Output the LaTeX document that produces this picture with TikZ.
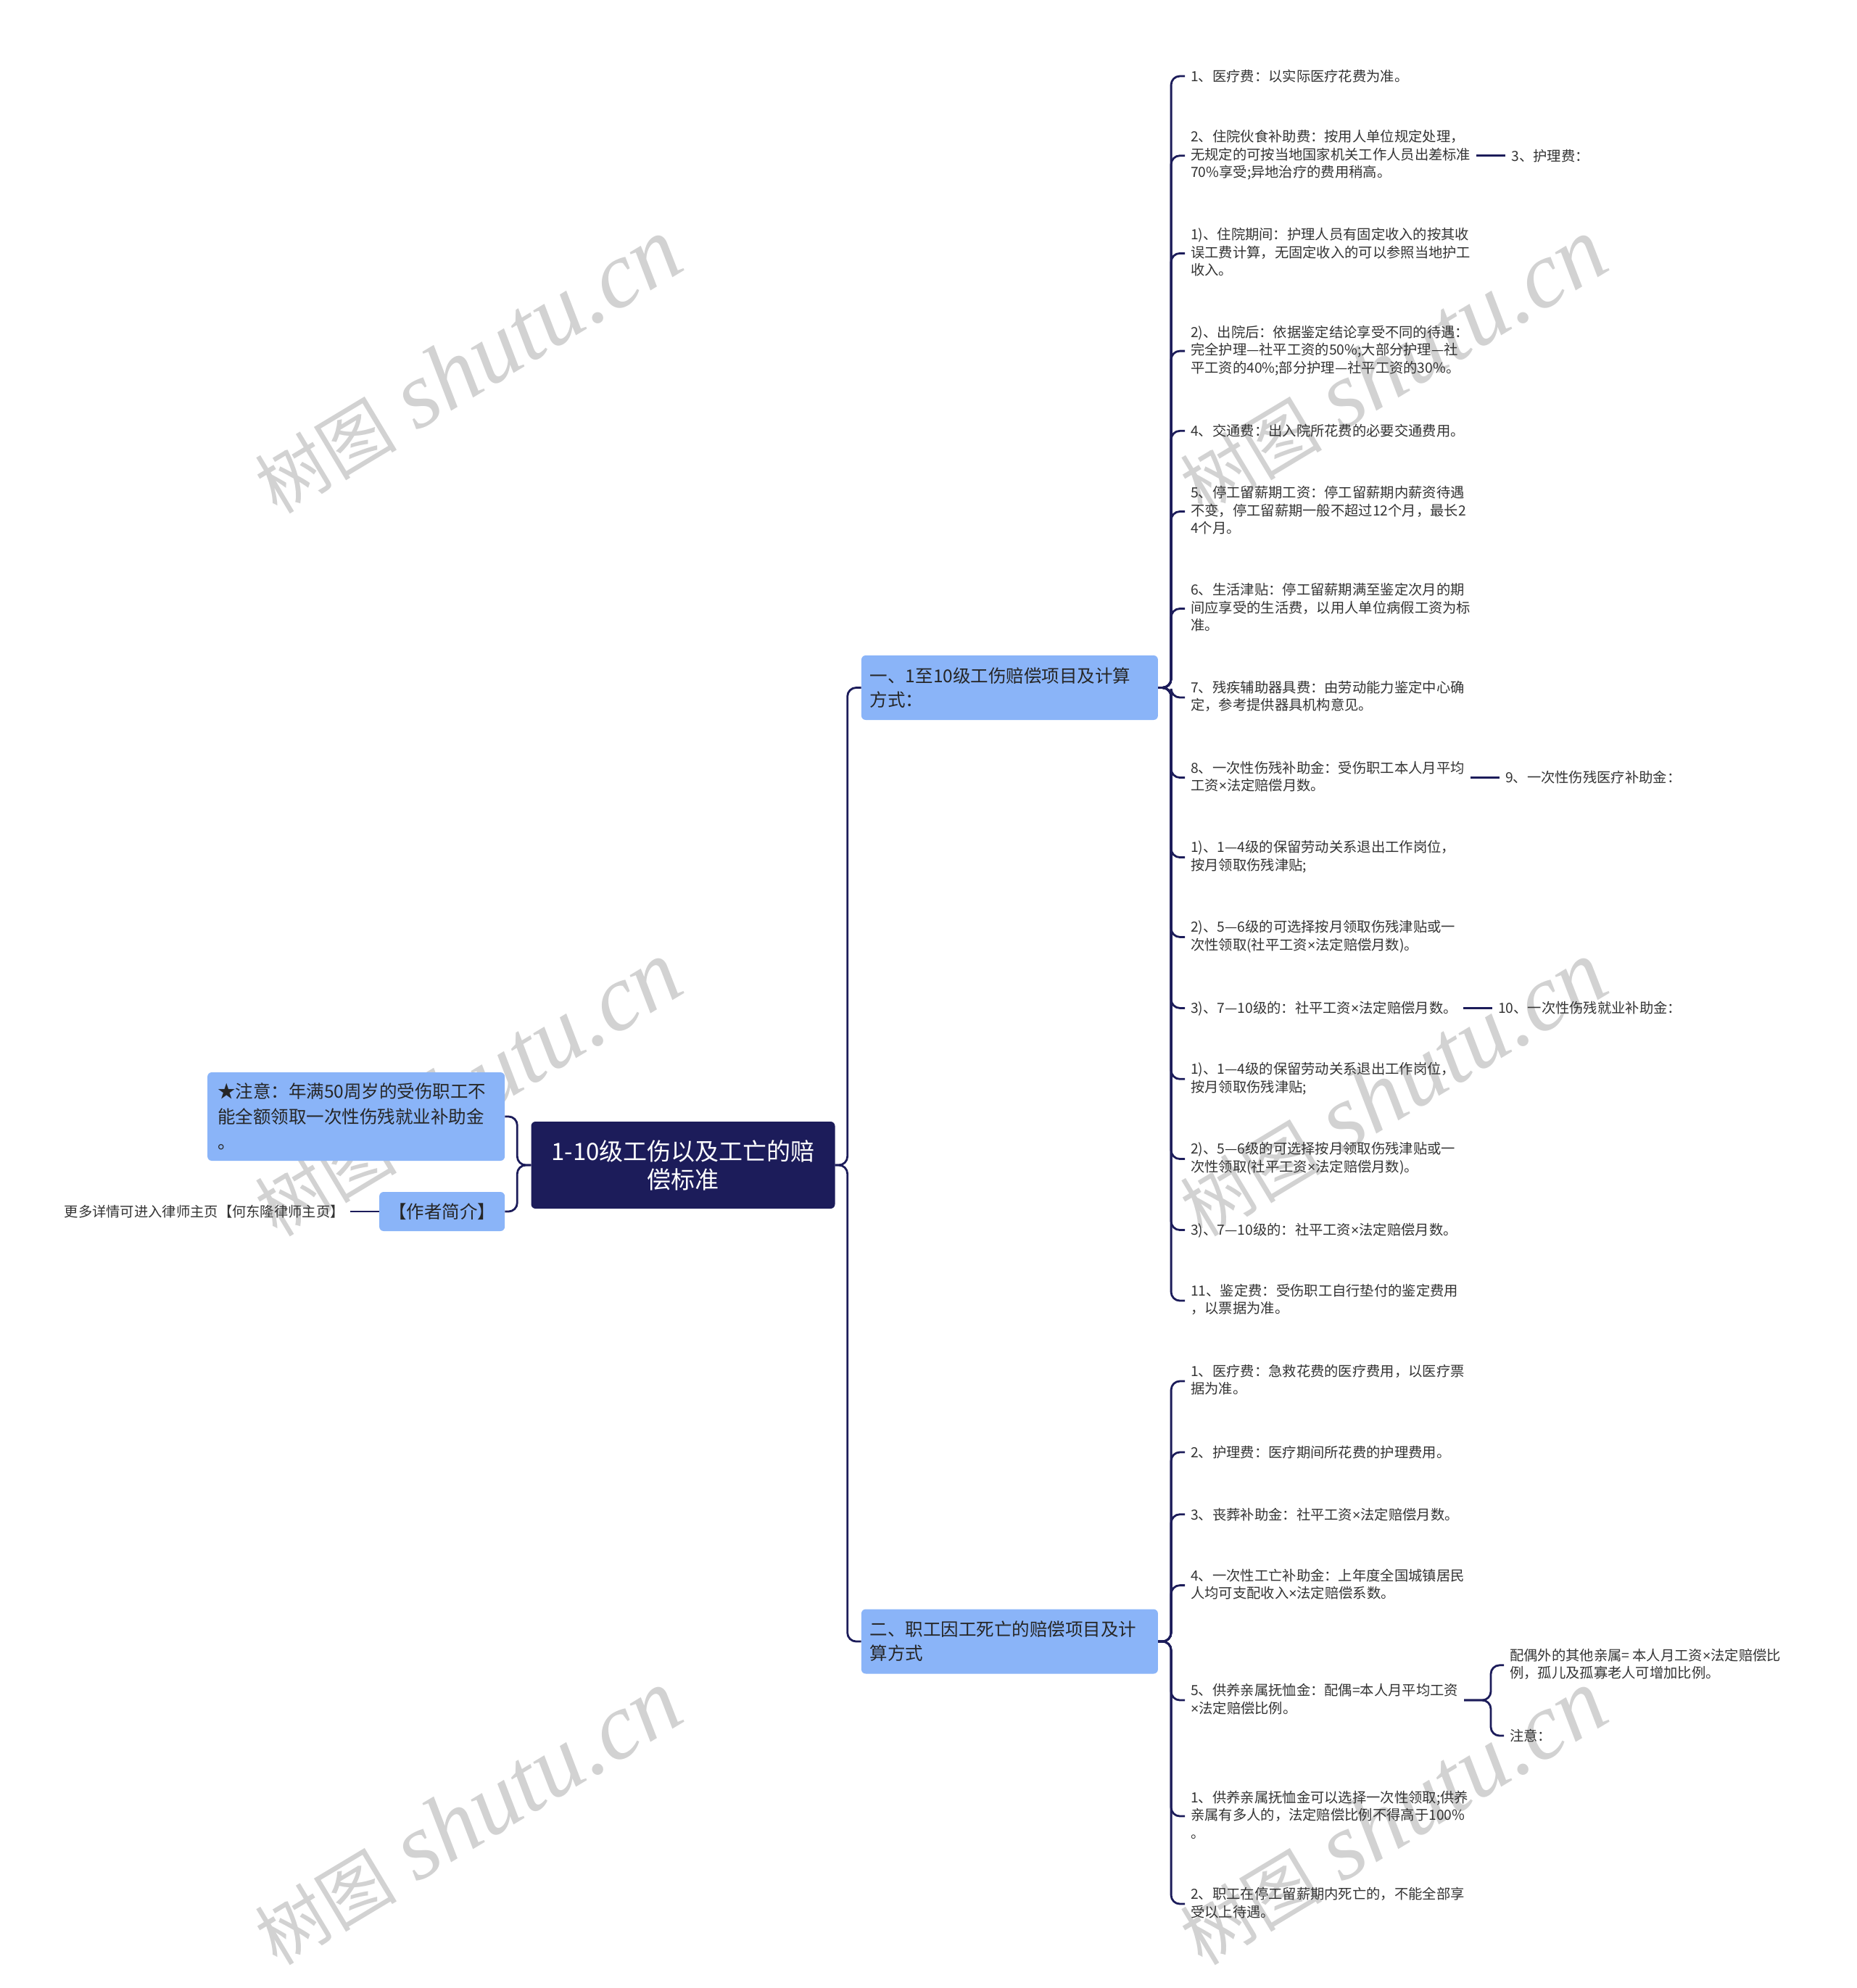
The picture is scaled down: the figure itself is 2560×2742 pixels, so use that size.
\documentclass[tikz,border=0pt]{standalone}
\usepackage{fontspec}
\setmainfont{Noto Sans CJK SC}
\newfontfamily\wmfont{Liberation Serif}
\newfontfamily\latinfont{Liberation Sans}
\usetikzlibrary{positioning,calc}
\definecolor{maplink}{HTML}{1C1C5A}
\definecolor{rootfill}{HTML}{1C1C5A}
\definecolor{branchfill}{HTML}{8AB4F8}
\definecolor{leaftext}{HTML}{333333}
\definecolor{wmgray}{HTML}{D2D2D2}
\newcommand{\shututext}{{\fontsize{98}{98}\selectfont 树图}\hspace{28pt}{\wmfont\itshape\fontsize{130}{130}\selectfont shutu.cn}}
\newcommand{\leafstrut}{\rule[-4.9pt]{0pt}{24.5pt}}
\newcommand{\mul}{{\latinfont ×}}

\begin{document}
\begin{tikzpicture}[
    x=1pt, y=1pt,
    node distance=61.2pt and 40pt,
    root/.style={rectangle, fill=rootfill, rounded corners=6pt, text=white, minimum width=419pt, minimum height=120pt, align=center, font=\fontsize{33}{39}\selectfont},
    branch/.style={rectangle, fill=branchfill, rounded corners=6pt, text=black!85, text width=385pt, inner xsep=12pt, minimum height=89pt, align=left, font=\fontsize{24.5}{33}\selectfont},
    notebox/.style={rectangle, fill=branchfill, rounded corners=6pt, text=black!85, text width=382pt, inner xsep=14pt, minimum height=122pt, align=left, font=\fontsize{24.5}{35}\selectfont},
    authorbox/.style={rectangle, fill=branchfill, rounded corners=6pt, text=black!85, minimum width=173pt, minimum height=54pt, inner xsep=0pt, font=\fontsize{24.5}{30}\selectfont},
    leaf/.style={rectangle, anchor=west, inner xsep=8pt, inner ysep=0pt, align=left, text=leaftext, font=\fontsize{19.3}{24.5}\selectfont, execute at begin node=\leafstrut, execute at end node=\leafstrut},
    link/.style={draw=maplink, line width=2.8pt, rounded corners=12pt},
    wm/.style={text=wmgray, rotate=31}
]
\useasboundingbox (0,0) rectangle (2560,-2742);

% watermarks
\node[wm] (wm1) at (645,-505) {\shututext};
\node[wm] (wm2) at (1921,-505) {\shututext};
\node[wm] (wm3) at (645,-1502) {\shututext};
\node[wm] (wm4) at (1921,-1502) {\shututext};
\node[wm] (wm5) at (645,-2507) {\shututext};
\node[wm] (wm6) at (1921,-2507) {\shututext};

% Centre and main branches
\node[root] (root) at (942,-1607) {1-10级工伤以及工亡的赔\\偿标准};
\node[branch, right=36pt of root, yshift=658.5pt] (injury) {一、1至10级工伤赔偿项目及计算\\方式：};
\node[branch, right=36pt of root, yshift=-657pt] (death) {二、职工因工死亡的赔偿项目及计\\算方式};

% Left side
\node[notebox, left=36pt of root, yshift=67pt] (note) {★注意：年满50周岁的受伤职工不\\能全额领取一次性伤残就业补助金\\。};
\node[authorbox, left=36pt of root, yshift=-64pt] (author) {【作者简介】};
\node[leaf, anchor=east, left=40pt of author] (more) {更多详情可进入律师主页【何东隆律师主页】};

% Branch 1: injury items
\node[leaf] (injmed) at (1634,-105) {1、医疗费：以实际医疗花费为准。};
\node[leaf] (injfood) at (1634,-214.7) {2、住院伙食补助费：按用人单位规定处理，\\无规定的可按当地国家机关工作人员出差标准\\70\%享受;异地治疗的费用稍高。};
\node[leaf, right=of injfood] (injnurse) {3、护理费：};
\node[leaf] (injstay) at (1634,-349.4) {1)、住院期间：护理人员有固定收入的按其收\\误工费计算，无固定收入的可以参照当地护工\\收入。};
\node[leaf] (injout) at (1634,-484.1) {2)、出院后：依据鉴定结论享受不同的待遇：\\完全护理—社平工资的50\%;大部分护理—社\\平工资的40\%;部分护理—社平工资的30\%。};
\node[leaf] (injtraffic) at (1634,-594.3) {4、交通费：出入院所花费的必要交通费用。};
\node[leaf] (injwage) at (1634,-705.5) {5、停工留薪期工资：停工留薪期内薪资待遇\\不变，停工留薪期一般不超过12个月，最长2\\4个月。};
\node[leaf] (injliving) at (1634,-839.5) {6、生活津贴：停工留薪期满至鉴定次月的期\\间应享受的生活费，以用人单位病假工资为标\\准。};
\node[leaf] (injaid) at (1634,-962) {7、残疾辅助器具费：由劳动能力鉴定中心确\\定，参考提供器具机构意见。};
\node[leaf] (injlump) at (1634,-1072.5) {8、一次性伤残补助金：受伤职工本人月平均\\工资\mul 法定赔偿月数。};
\node[leaf, right=of injlump] (injlumpmed) {9、一次性伤残医疗补助金：};
\node[leaf] (injgradeA) at (1634,-1182.5) {1)、1—4级的保留劳动关系退出工作岗位，\\按月领取伤残津贴;};
\node[leaf] (injgradeB) at (1634,-1292.4) {2)、5—6级的可选择按月领取伤残津贴或一\\次性领取(社平工资\mul 法定赔偿月数)。};
\node[leaf] (injgradeC) at (1634,-1390.4) {3)、7—10级的：社平工资\mul 法定赔偿月数。};
\node[leaf, right=of injgradeC] (injjob) {10、一次性伤残就业补助金：};
\node[leaf] (injgradeD) at (1634,-1488.3) {1)、1—4级的保留劳动关系退出工作岗位，\\按月领取伤残津贴;};
\node[leaf] (injgradeE) at (1634,-1598.5) {2)、5—6级的可选择按月领取伤残津贴或一\\次性领取(社平工资\mul 法定赔偿月数)。};
\node[leaf] (injgradeF) at (1634,-1696.5) {3)、7—10级的：社平工资\mul 法定赔偿月数。};
\node[leaf] (injassess) at (1634,-1794) {11、鉴定费：受伤职工自行垫付的鉴定费用\\，以票据为准。};

% Branch 2: death items
\node[leaf] (dthmed) at (1634,-1905) {1、医疗费：急救花费的医疗费用，以医疗票\\据为准。};
\node[leaf] (dthnurse) at (1634,-2003) {2、护理费：医疗期间所花费的护理费用。};
\node[leaf] (dthfuneral) at (1634,-2088.7) {3、丧葬补助金：社平工资\mul 法定赔偿月数。};
\node[leaf] (dthlump) at (1634,-2186.6) {4、一次性工亡补助金：上年度全国城镇居民\\人均可支配收入\mul 法定赔偿系数。};
\node[leaf] (dthpension) at (1634,-2345) {5、供养亲属抚恤金：配偶=本人月平均工资\\\mul 法定赔偿比例。};
\node[leaf] (dthspouse) at (2074,-2296.8) {配偶外的其他亲属= 本人月工资\mul 法定赔偿比\\例，孤儿及孤寡老人可增加比例。};
\node[leaf] (dthnote) at (2074,-2394) {注意：};
\node[leaf] (dthchoose) at (1634,-2505) {1、供养亲属抚恤金可以选择一次性领取;供养\\亲属有多人的，法定赔偿比例不得高于100\%\\。};
\node[leaf] (dthstop) at (1634,-2626) {2、职工在停工留薪期内死亡的，不能全部享\\受以上待遇。};

% Connectors: centre
\draw[link] (root.east) -- ++(17,0) |- (injury.west);
\draw[link] (root.east) -- ++(17,0) |- (death.west);
\draw[link] (root.west) -- ++(-19,0) |- (note.east);
\draw[link] (root.west) -- ++(-19,0) |- (author.east);
\draw[link] (author.west) -- (more.east);

% Connectors: branch 1
\draw[link] (injury.east) -- ++(18,0) |- (injmed.west);
\draw[link] (injury.east) -- ++(18,0) |- (injfood.west);
\draw[link] (injury.east) -- ++(18,0) |- (injstay.west);
\draw[link] (injury.east) -- ++(18,0) |- (injout.west);
\draw[link] (injury.east) -- ++(18,0) |- (injtraffic.west);
\draw[link] (injury.east) -- ++(18,0) |- (injwage.west);
\draw[link] (injury.east) -- ++(18,0) |- (injliving.west);
\draw[link] (injury.east) -- ++(18,0) |- (injaid.west);
\draw[link] (injury.east) -- ++(18,0) |- (injlump.west);
\draw[link] (injury.east) -- ++(18,0) |- (injgradeA.west);
\draw[link] (injury.east) -- ++(18,0) |- (injgradeB.west);
\draw[link] (injury.east) -- ++(18,0) |- (injgradeC.west);
\draw[link] (injury.east) -- ++(18,0) |- (injgradeD.west);
\draw[link] (injury.east) -- ++(18,0) |- (injgradeE.west);
\draw[link] (injury.east) -- ++(18,0) |- (injgradeF.west);
\draw[link] (injury.east) -- ++(18,0) |- (injassess.west);
\draw[link] (injfood) -- (injnurse);
\draw[link] (injlump) -- (injlumpmed);
\draw[link] (injgradeC) -- (injjob);

% Connectors: branch 2
\draw[link] (death.east) -- ++(18,0) |- (dthmed.west);
\draw[link] (death.east) -- ++(18,0) |- (dthnurse.west);
\draw[link] (death.east) -- ++(18,0) |- (dthfuneral.west);
\draw[link] (death.east) -- ++(18,0) |- (dthlump.west);
\draw[link] (death.east) -- ++(18,0) |- (dthpension.west);
\draw[link] (death.east) -- ++(18,0) |- (dthchoose.west);
\draw[link] (death.east) -- ++(18,0) |- (dthstop.west);
\coordinate (fork) at ($(dthspouse.west)+(-18,0)$);
\draw[link] (dthpension.east) -- (dthpension.east -| fork) |- (dthspouse.west);
\draw[link] (dthpension.east) -- (dthpension.east -| fork) |- (dthnote.west);

\end{tikzpicture}
\end{document}
